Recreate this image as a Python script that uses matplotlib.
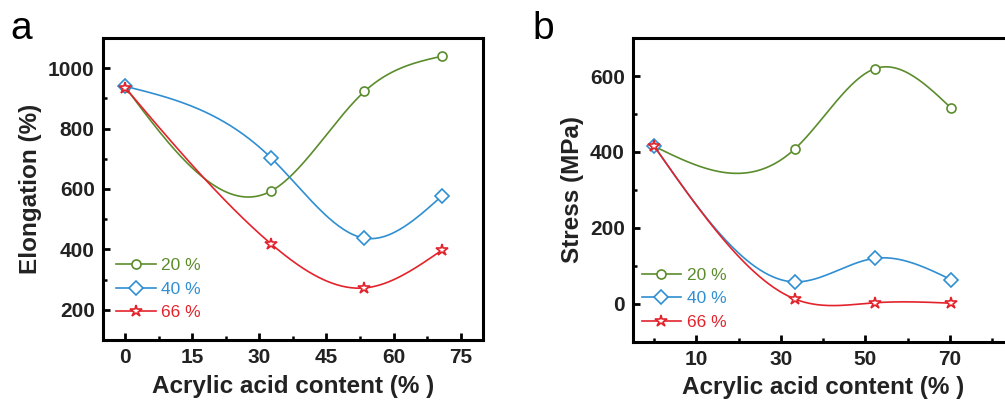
import numpy as np
import matplotlib
matplotlib.use('Agg')
import matplotlib.pyplot as plt
from matplotlib.ticker import MultipleLocator, FixedLocator

plt.rcParams['font.family'] = ['Liberation Sans', 'DejaVu Sans']

# 数据
labels = ['20 %', '40 %', '66 %']
colors = ['#5b8c2c', '#2f8fd2', '#e3232b']
markers = ['o', 'D', '*']
msizes = [6.5, 7, 9]

x_a = [0, 32.6, 53.5, 70.9]
elong_20 = [937, 593, 923, 1040]
elong_40 = [940, 703, 437, 578]
elong_66 = [935, 418, 272, 398]

x_b = [0, 33.3, 52.2, 70.3]
stress_20 = [415, 408, 619, 516]
stress_40 = [415, 58, 120, 64]
stress_66 = [415, 13, 3, 2]


def natural_spline(x, y, n=200):
    # 自然三次样条，用于平滑连线
    x = np.asarray(x, float)
    y = np.asarray(y, float)
    k = len(x)
    h = np.diff(x)
    A = np.zeros((k, k))
    r = np.zeros(k)
    A[0, 0] = A[-1, -1] = 1
    for i in range(1, k - 1):
        A[i, i - 1] = h[i - 1]
        A[i, i] = 2 * (h[i - 1] + h[i])
        A[i, i + 1] = h[i]
        r[i] = 6 * ((y[i + 1] - y[i]) / h[i] - (y[i] - y[i - 1]) / h[i - 1])
    M = np.linalg.solve(A, r)
    xs = np.linspace(x[0], x[-1], n)
    idx = np.clip(np.searchsorted(x, xs) - 1, 0, k - 2)
    x0, x1 = x[idx], x[idx + 1]
    hh = x1 - x0
    t0, t1 = x1 - xs, xs - x0
    ys = (M[idx] * t0 ** 3 + M[idx + 1] * t1 ** 3) / (6 * hh) \
        + (y[idx] / hh - M[idx] * hh / 6) * t0 \
        + (y[idx + 1] / hh - M[idx + 1] * hh / 6) * t1
    return xs, ys


def draw(ax, x, series):
    for ys, c, m, ms, lab in zip(series, colors, markers, msizes, labels):
        sx, sy = natural_spline(x, ys)
        ax.plot(sx, sy, color=c, lw=1.2)
        ax.plot(x, ys, linestyle='none', marker=m, ms=ms, mfc='white',
                mec=c, mew=1.2)
        ax.plot([], [], color=c, lw=1.2, marker=m, ms=ms, mfc='white',
                mec=c, mew=1.2, label=lab)


def style(ax):
    for s in ax.spines.values():
        s.set_linewidth(2.2)
    ax.tick_params(which='major', direction='in', length=5, width=2,
                   labelsize=15, labelcolor='#222222', pad=6)
    ax.tick_params(which='minor', direction='in', length=3, width=1.8)
    for lb in ax.get_xticklabels() + ax.get_yticklabels():
        lb.set_fontweight('bold')


fig = plt.figure(figsize=(10.05, 4.09), dpi=100)

# 图 a
ax1 = fig.add_axes([0.1025, 0.169, 0.378, 0.738])
draw(ax1, x_a, [elong_20, elong_40, elong_66])
ax1.set_xlim(-5, 80)
ax1.set_ylim(100, 1100)
ax1.xaxis.set_major_locator(MultipleLocator(15))
ax1.xaxis.set_minor_locator(MultipleLocator(7.5))
ax1.yaxis.set_major_locator(MultipleLocator(200))
ax1.yaxis.set_minor_locator(MultipleLocator(100))
style(ax1)
ax1.set_xlabel('Acrylic acid content (% )', fontsize=17.5, fontweight='bold',
               color='#222222', labelpad=5.5)
ax1.set_ylabel('Elongation (%)', fontsize=17.5, fontweight='bold',
               color='#222222', labelpad=4)
leg = ax1.legend(loc='lower left', bbox_to_anchor=(0.035, 0.065), frameon=False,
                 fontsize=12.5, handlelength=2.3, handletextpad=0.3,
                 labelspacing=0.48, borderpad=0, borderaxespad=0)
for t, c in zip(leg.get_texts(), colors):
    t.set_color(c)
fig.text(0.01, 0.905, 'a', fontsize=28)

# 图 b
ax2 = fig.add_axes([0.63, 0.164, 0.378, 0.743])
draw(ax2, x_b, [stress_20, stress_40, stress_66])
ax2.set_xlim(-5, 85)
ax2.set_ylim(-100, 700)
ax2.xaxis.set_major_locator(FixedLocator([10, 30, 50, 70]))
ax2.xaxis.set_minor_locator(FixedLocator([0, 20, 40, 60, 80]))
ax2.yaxis.set_major_locator(MultipleLocator(200))
ax2.yaxis.set_minor_locator(MultipleLocator(100))
style(ax2)
ax2.set_xlabel('Acrylic acid content (% )', fontsize=17.5, fontweight='bold',
               color='#222222', labelpad=4.5)
ax2.set_ylabel('Stress (MPa)', fontsize=17.5, fontweight='bold',
               color='#222222', labelpad=4)
leg = ax2.legend(loc='lower left', bbox_to_anchor=(0.022, 0.04), frameon=False,
                 fontsize=12.5, handlelength=2.3, handletextpad=0.3,
                 labelspacing=0.48, borderpad=0, borderaxespad=0)
for t, c in zip(leg.get_texts(), colors):
    t.set_color(c)
fig.text(0.53, 0.905, 'b', fontsize=28)

fig.savefig('out.png', dpi=100)
